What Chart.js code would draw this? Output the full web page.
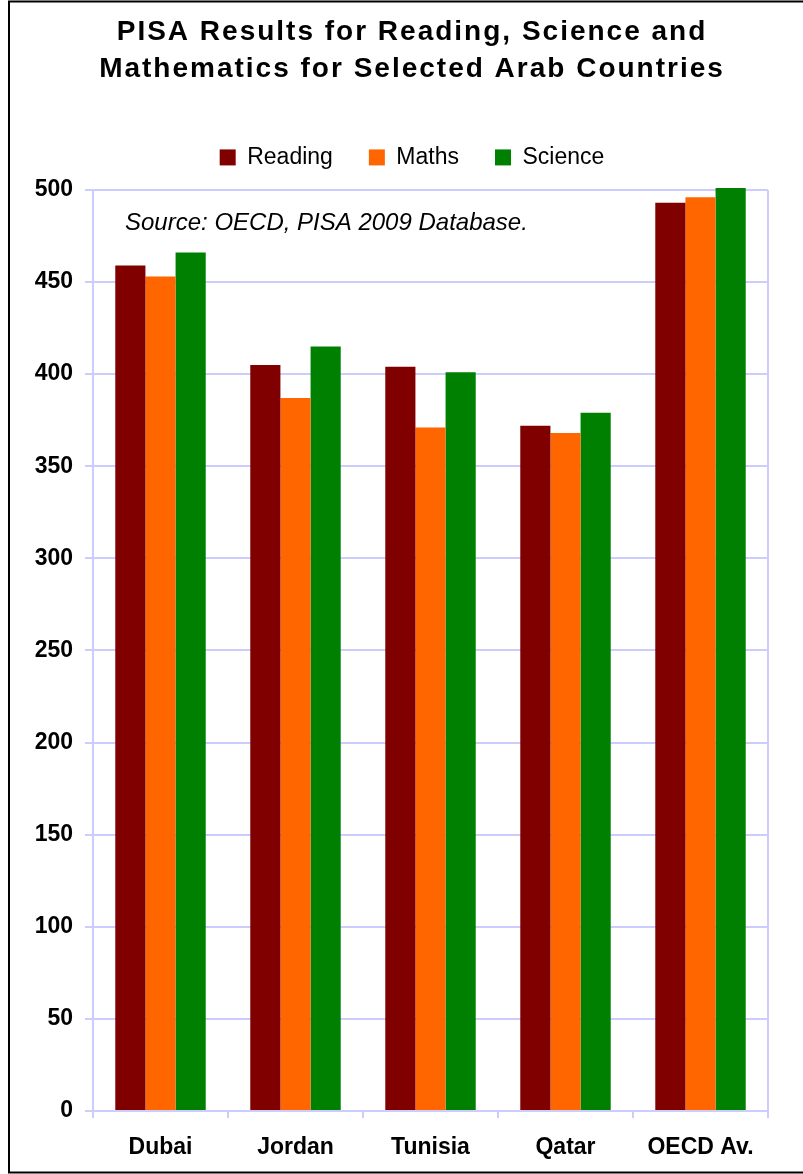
<!DOCTYPE html>
<html>
<head>
<meta charset="utf-8">
<script src="https://cdn.jsdelivr.net/npm/chart.js@4/dist/chart.umd.min.js"></script>
<style>
  html, body { margin: 0; padding: 0; background: #fff; }
  canvas { display: block; }
</style>
</head>
<body>
<canvas id="myChart" width="803" height="1174"></canvas>
<script>
// Chart data (PISA 2009)
const countries = ['Dubai', 'Jordan', 'Tunisia', 'Qatar', 'OECD Av.'];
const reading = [459, 405, 404, 372, 493];
const maths = [453, 387, 371, 368, 496];
const science = [466, 415, 401, 379, 501];
const yTicks = [0, 50, 100, 150, 200, 250, 300, 350, 400, 450, 500];
const titleLines = ['PISA Results for Reading, Science and', 'Mathematics for Selected Arab Countries'];
const sourceNote = 'Source: OECD, PISA 2009 Database.';

const FONT = "'Liberation Sans', Arial, sans-serif";
const GRID = '#ccccff';

// Title letter spacing (the original title is drawn with expanded spacing)
const spacedTitle = {
    id: 'spacedTitle',
    afterLayout(chart) {
        const block = chart.titleBlock;
        if (!block || block._spaced) return;
        const draw = block.draw;
        block.draw = function (area) {
            chart.ctx.save();
            chart.ctx.letterSpacing = '2px';
            draw.call(this, area);
            chart.ctx.restore();
        };
        block._spaced = true;
    }
};

// Right edge of the plot frame, source note and outer border
const plotExtras = {
    id: 'plotExtras',
    beforeDatasetsDraw(chart) {
        const { ctx, chartArea } = chart;
        ctx.save();
        ctx.strokeStyle = GRID;
        ctx.lineWidth = 2;
        ctx.beginPath();
        ctx.moveTo(chartArea.right, chartArea.top);
        ctx.lineTo(chartArea.right, chartArea.bottom + 7);
        ctx.stroke();
        ctx.restore();
    },
    afterDatasetsDraw(chart) {
        const { ctx, chartArea } = chart;
        ctx.save();
        ctx.font = 'italic 24px ' + FONT;
        ctx.fillStyle = '#000';
        ctx.textBaseline = 'middle';
        ctx.fillText(sourceNote, chartArea.left + 32, chartArea.top + 33);
        ctx.restore();
    },
    afterDraw(chart) {
        const ctx = chart.ctx;
        ctx.save();
        ctx.strokeStyle = '#000';
        ctx.lineWidth = 2;
        ctx.strokeRect(9, 1.5, 810, 1171);
        ctx.restore();
    }
};

const data = {
    labels: countries,
    datasets: [
        { label: 'Reading', data: reading, backgroundColor: '#800000' },
        { label: 'Maths', data: maths, backgroundColor: '#ff6600' },
        { label: 'Science', data: science, backgroundColor: '#008000' }
    ]
};

const config = {
    type: 'bar',
    data: data,
    options: {
        responsive: false,
        animation: false,
        layout: { padding: { left: 31, right: 10, top: 2, bottom: 0 } },
        datasets: {
            bar: {
                categoryPercentage: 0.67,
                barPercentage: 1.0,
                clip: false
            }
        },
        plugins: {
            title: {
                display: true,
                text: titleLines,
                color: '#000',
                font: { family: FONT, size: 28, weight: 'bold', lineHeight: 1.32 },
                padding: { top: 12, bottom: 22 }
            },
            legend: {
                position: 'top',
                labels: {
                    color: '#000',
                    boxWidth: 16,
                    boxHeight: 16,
                    padding: 36,
                    font: { family: FONT, size: 23 }
                }
            },
            tooltip: { enabled: false }
        },
        scales: {
            x: {
                grid: {
                    drawOnChartArea: false,
                    drawTicks: true,
                    tickLength: 7,
                    color: GRID,
                    lineWidth: 2
                },
                border: { color: GRID, width: 2 },
                ticks: {
                    color: '#000',
                    padding: 16,
                    font: { family: FONT, size: 23, weight: 'bold' }
                },
                afterFit(scale) { scale.height = 63; }
            },
            // empty spacers around the plot
            spacerTop: {
                type: 'category',
                position: 'top',
                grid: { display: false },
                border: { display: false },
                ticks: { display: false },
                afterFit(scale) { scale.height = 11; }
            },
            y: {
                min: 0,
                max: 500,
                afterBuildTicks(scale) {
                    scale.ticks = yTicks.map(v => ({ value: v }));
                },
                grid: {
                    color: GRID,
                    lineWidth: 2,
                    drawTicks: true,
                    tickLength: 8
                },
                border: { color: GRID, width: 2 },
                ticks: {
                    color: '#000',
                    padding: 12,
                    font: { family: FONT, size: 23, weight: 'bold' }
                },
                afterFit(scale) { scale.width = 62; }
            },
            spacerRight: {
                type: 'linear',
                position: 'right',
                grid: { display: false },
                border: { display: false },
                ticks: { display: false },
                afterFit(scale) { scale.width = 25; }
            }
        }
    },
    plugins: [spacedTitle, plotExtras]
};

const myChart = new Chart(document.getElementById('myChart'), config);
</script>
</body>
</html>
